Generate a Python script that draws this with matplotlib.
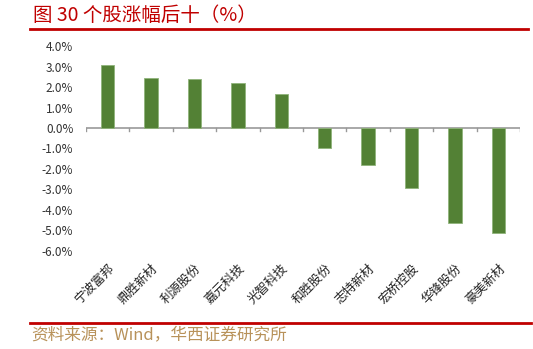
import matplotlib.pyplot as plt
from matplotlib.lines import Line2D

plt.rcParams['font.family'] = ['Noto Sans CJK SC', 'DejaVu Sans']

stocks = ['宁波富邦', '鼎胜新材', '利源股份', '嘉元科技', '光智科技',
          '和胜股份', '志特新材', '宏桥控股', '华锋股份', '豪美新材']
change_pct = [3.08, 2.44, 2.40, 2.20, 1.64, -0.99, -1.80, -2.94, -4.62, -5.14]
yticks = [4, 3, 2, 1, 0, -1, -2, -3, -4, -5, -6]

fig = plt.figure(figsize=(5.33, 3.49), dpi=100)
ax = fig.add_axes([0.161, 0.281, 0.815, 0.587])

x = list(range(len(stocks)))
ax.bar(x, change_pct, width=0.31, color='#538135', edgecolor='#8fb47a', linewidth=0.6, zorder=3)

ax.set_ylim(-6, 4)
ax.set_xlim(-0.5, len(stocks) - 0.5)
ax.set_yticks(yticks)
ax.set_yticklabels([f'{v:.1f}%' for v in yticks], fontsize=8.5, color='#333333')
ax.tick_params(axis='y', length=0, pad=9)

for s in ['top', 'right', 'bottom', 'left']:
    ax.spines[s].set_visible(False)
ax.axhline(0, color='#999999', linewidth=1.2, zorder=2)

# small category boundary ticks under the zero line
for b in [i - 0.5 for i in range(len(stocks) + 1)]:
    ax.plot([b, b], [0, -0.15], color='#999999', linewidth=1, zorder=2)

ax.set_xticks(x)
ax.set_xticklabels(stocks, rotation=45, ha='right', rotation_mode='anchor', fontsize=9, color='#222222')
ax.tick_params(axis='x', length=0, pad=8)

fig.text(0.062, 0.955, '图 30 个股涨幅后十（%）', fontsize=14, color='#C00000', va='center', ha='left')
fig.add_artist(Line2D([30 / 533, 528 / 533], [1 - 29 / 349] * 2, color='#C00000', linewidth=2))
fig.add_artist(Line2D([30 / 533, 531 / 533], [1 - 323 / 349] * 2, color='#C00000', linewidth=2))
fig.text(0.058, 1 - 335 / 349, '资料来源：Wind，华西证券研究所', fontsize=12, color='#B8925A', va='center', ha='left')

fig.savefig('out.png', dpi=100)
